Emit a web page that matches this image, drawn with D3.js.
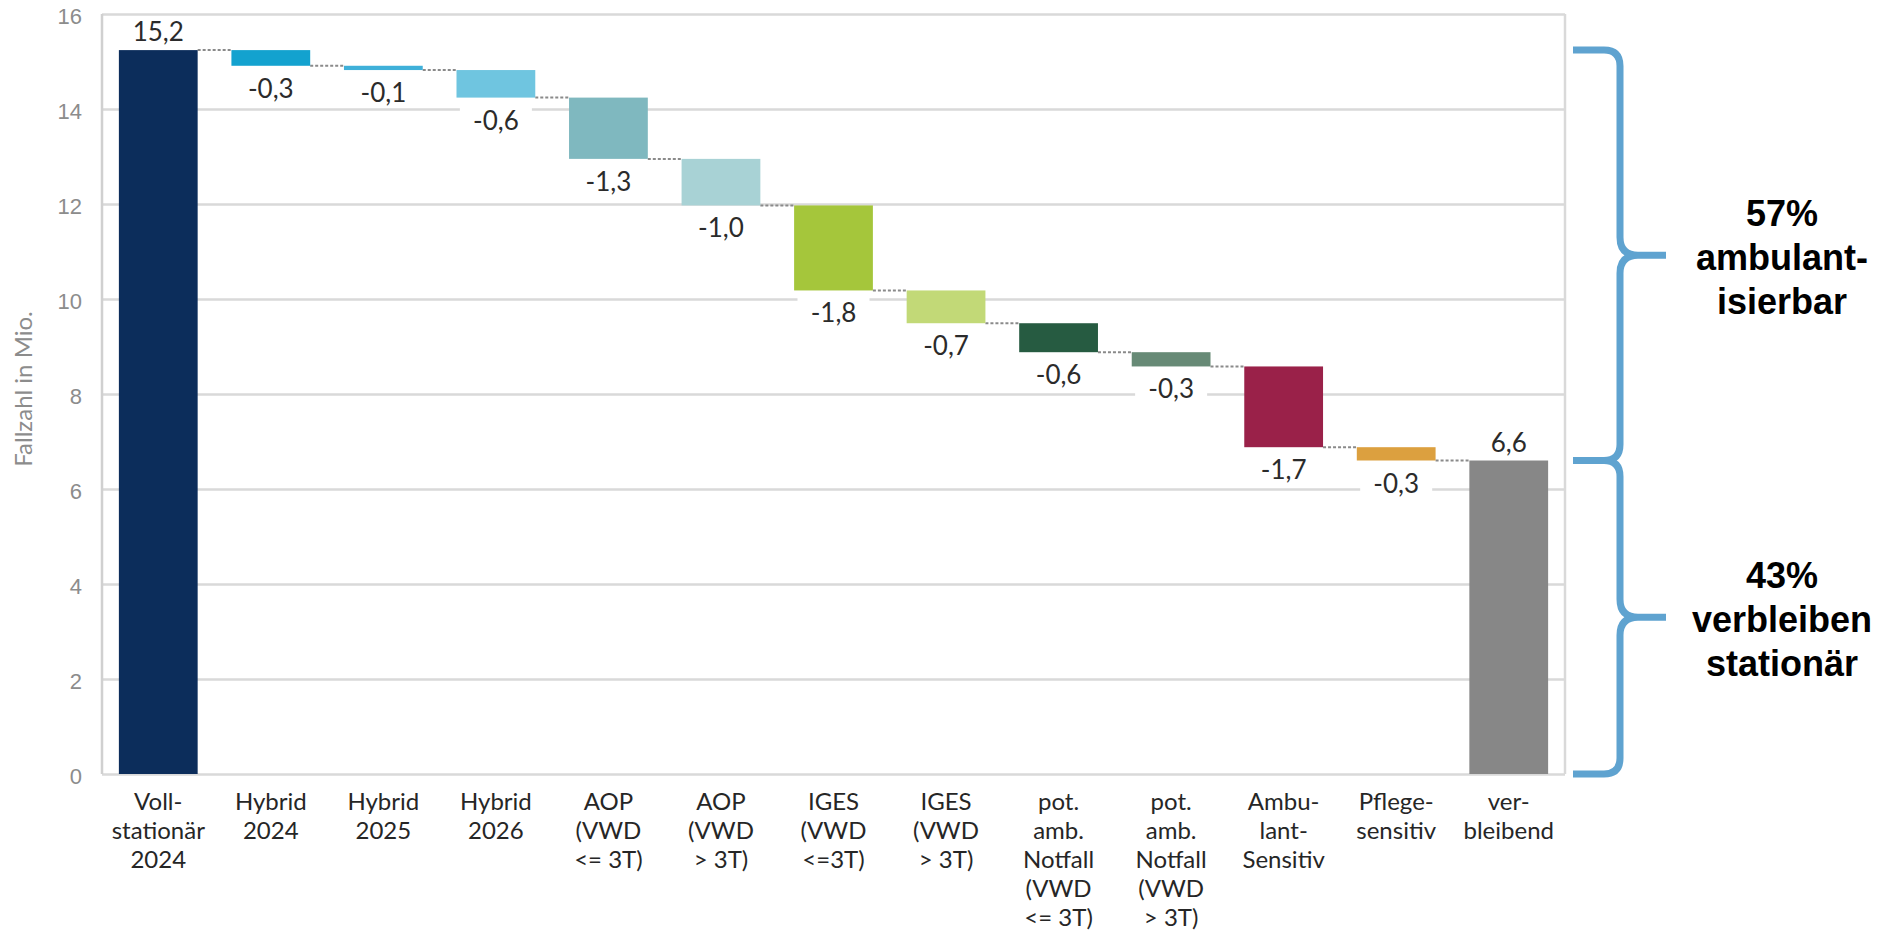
<!DOCTYPE html>
<html>
<head>
<meta charset="utf-8">
<script src="https://cdn.jsdelivr.net/npm/d3@7"></script>
<style>
  body { margin: 0; background: #fff; }
  svg { display: block; }
</style>
</head>
<body>
<div id="chart"></div>
<script>
{
  // categories (line breaks as in the original axis)
  const categories = [
    "Voll-\nstationär\n2024",
    "Hybrid\n2024",
    "Hybrid\n2025",
    "Hybrid\n2026",
    "AOP\n(VWD\n<= 3T)",
    "AOP\n(VWD\n> 3T)",
    "IGES\n(VWD\n<=3T)",
    "IGES\n(VWD\n> 3T)",
    "pot.\namb.\nNotfall\n(VWD\n<= 3T)",
    "pot.\namb.\nNotfall\n(VWD\n> 3T)",
    "Ambu-\nlant-\nSensitiv",
    "Pflege-\nsensitiv",
    "ver-\nbleibend"
  ];
  const startValue = 15.24;
  const deltas = [-0.33, -0.09, -0.58, -1.29, -0.98, -1.79, -0.69, -0.61, -0.30, -1.70, -0.28];
  const endValue = 6.60;
  const colors = ["#0c2d5b", "#13a2cf", "#3fb0d9", "#6fc5e0", "#7fb8bf", "#a8d2d5",
                  "#a5c63b", "#c2d977", "#265b41", "#678a76", "#9a2149", "#dca03f", "#878787"];
  const yTicks = [0, 2, 4, 6, 8, 10, 12, 14, 16];
  const brackets = [
    { from: 15.24, to: 6.6, lines: ["57%", "ambulant-", "isierbar"] },
    { from: 6.6, to: 0, lines: ["43%", "verbleiben", "stationär"] }
  ];

  const width = 1885, height = 937;
  const left = 102, right = 1565, top = 14, bottom = 774;

  const de = d3.formatLocale({ decimal: ",", thousands: ".", grouping: [3], currency: ["", "€"], minus: "-" });
  const fmt = de.format(".1f");

  // build waterfall rows
  const rows = [];
  let level = startValue;
  rows.push({ cat: categories[0], y0: 0, y1: startValue, value: startValue, total: true });
  deltas.forEach((d, i) => {
    rows.push({ cat: categories[i + 1], y0: level + d, y1: level, value: d, total: false });
    level += d;
  });
  rows.push({ cat: categories[categories.length - 1], y0: 0, y1: endValue, value: endValue, total: true });

  const x = d3.scaleBand()
    .domain(categories)
    .range([left, right])
    .paddingInner(0.3)
    .paddingOuter(0.15);

  const y = d3.scaleLinear().domain([0, 16]).range([bottom, top]);

  const svg = d3.select("#chart").append("svg")
    .attr("width", width)
    .attr("height", height)
    .style("font-family", "Lato, 'Open Sans', sans-serif");

  // grid + y ticks
  const yAxis = svg.append("g")
    .attr("transform", `translate(${left},0)`)
    .call(d3.axisLeft(y).tickValues(yTicks).tickSize(-(right - left)).tickPadding(20).tickFormat(d3.format("d")));
  yAxis.select(".domain").remove();
  yAxis.selectAll(".tick line").attr("stroke", "#d9d9d9").attr("stroke-width", 2.5);
  yAxis.selectAll(".tick text")
    .attr("fill", "#8c8c8c")
    .attr("font-size", 22)
    .attr("dy", "0.45em");

  // plot frame
  svg.append("line").attr("x1", left).attr("x2", left).attr("y1", top).attr("y2", bottom)
    .attr("stroke", "#d0d0d0").attr("stroke-width", 2.5);
  svg.append("line").attr("x1", right).attr("x2", right).attr("y1", top).attr("y2", bottom)
    .attr("stroke", "#d9d9d9").attr("stroke-width", 2.5);

  // y title
  svg.append("text")
    .attr("transform", `translate(32,${(top + bottom) / 2 - 5}) rotate(-90)`)
    .attr("text-anchor", "middle")
    .attr("fill", "#8c8c8c")
    .attr("font-size", 24)
    .text("Fallzahl in Mio.");

  // connectors
  svg.append("g").selectAll("line")
    .data(rows.slice(0, -1))
    .join("line")
    .attr("x1", d => x(d.cat) + x.bandwidth())
    .attr("x2", (d, i) => x(rows[i + 1].cat))
    .attr("y1", d => y(d.total ? d.y1 : d.y0))
    .attr("y2", d => y(d.total ? d.y1 : d.y0))
    .attr("stroke", "#8a8a8a")
    .attr("stroke-width", 2)
    .attr("stroke-dasharray", "3,2");

  // bars
  svg.append("g").selectAll("rect")
    .data(rows)
    .join("rect")
    .attr("x", d => x(d.cat))
    .attr("width", x.bandwidth())
    .attr("y", d => y(d.y1))
    .attr("height", d => y(d.y0) - y(d.y1))
    .attr("fill", (d, i) => colors[i]);

  // value labels
  const lab = svg.append("g").selectAll("g")
    .data(rows)
    .join("g")
    .attr("transform", d => `translate(${x(d.cat) + x.bandwidth() / 2},${d.total ? y(d.y1) : y(d.y0)})`);

  lab.filter(d => !d.total).append("rect")
    .attr("x", -36).attr("y", 4).attr("width", 72).attr("height", 32)
    .attr("fill", "#fff");

  lab.append("text")
    .attr("text-anchor", "middle")
    .attr("y", d => d.total ? -9 : 32)
    .attr("font-size", 26)
    .attr("fill", "#2b2b2b")
    .text(d => fmt(d.value));

  // x labels
  const xl = svg.append("g").selectAll("text")
    .data(categories)
    .join("text")
    .attr("text-anchor", "middle")
    .attr("font-size", 24)
    .attr("fill", "#262626")
    .attr("x", d => x(d) + x.bandwidth() / 2)
    .attr("y", 810);
  xl.selectAll("tspan")
    .data(d => d.split("\n"))
    .join("tspan")
    .attr("x", function () { return this.parentNode.getAttribute("x"); })
    .attr("dy", (d, i) => i === 0 ? 0 : 29)
    .text(d => d);

  // brackets
  const bx0 = 1573, bx1 = 1620, bx2 = 1666;
  const br = svg.append("g").selectAll("g")
    .data(brackets)
    .join("g");

  br.append("path")
    .attr("fill", "none")
    .attr("stroke", "#5fa3d0")
    .attr("stroke-width", 7)
    .attr("d", d => {
      const yT = y(d.from), yB = y(d.to), yM = (yT + yB) / 2;
      return `M${bx0},${yT} L${bx1 - 16},${yT} Q${bx1},${yT} ${bx1},${yT + 16}` +
        ` L${bx1},${yM - 18} Q${bx1},${yM} ${bx1 + 18},${yM} L${bx2},${yM}` +
        ` M${bx1 + 18},${yM} Q${bx1},${yM} ${bx1},${yM + 18}` +
        ` L${bx1},${yB - 16} Q${bx1},${yB} ${bx1 - 16},${yB} L${bx0},${yB}`;
    });

  br.append("text")
    .attr("text-anchor", "middle")
    .attr("font-family", "'Liberation Sans', Arial, sans-serif")
    .attr("font-weight", "bold")
    .attr("font-size", 36)
    .attr("fill", "#000")
    .attr("y", d => (y(d.from) + y(d.to)) / 2 - 29)
    .selectAll("tspan")
    .data(d => d.lines)
    .join("tspan")
    .attr("x", 1782)
    .attr("dy", (d, i) => i === 0 ? 0 : 44)
    .text(d => d);
}
</script>
</body>
</html>
